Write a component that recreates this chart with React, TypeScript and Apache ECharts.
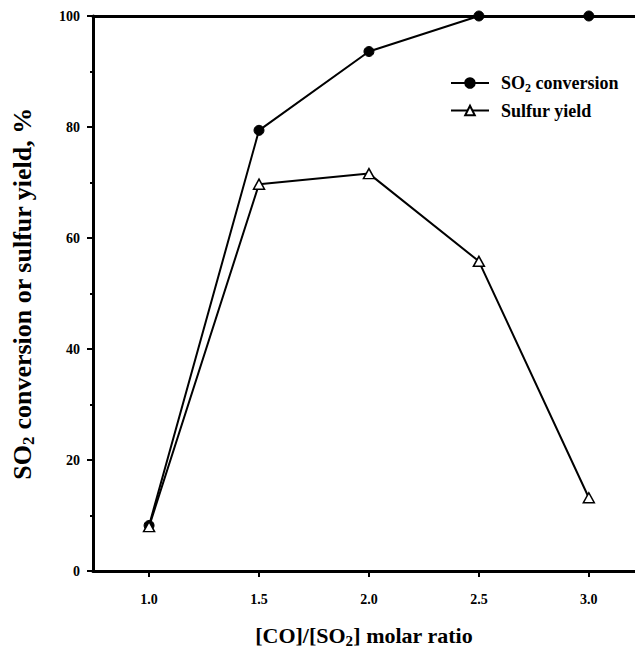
import React, { useEffect, useRef } from "react";
import * as echarts from "echarts";

const ratios = [1.0, 1.5, 2.0, 2.5, 3.0];
const so2Conversion = [8.2, 79.4, 93.6, 100, 100];
const sulfurYield = [8.0, 69.7, 71.6, 55.8, 13.2];
const xTicks = [1.0, 1.5, 2.0, 2.5, 3.0];
const yTicks = [0, 20, 40, 60, 80, 100];

const FONT = "'Liberation Serif', 'Times New Roman', serif";

export default function App() {
  const ref = useRef<HTMLDivElement>(null);
  useEffect(() => {
    if (!ref.current) return;
    document.body.style.margin = "0";
    const chart = echarts.init(ref.current, null, { renderer: "svg" });
    const xMin = 0.745;
    const xMax = 3.21;
    chart.setOption({
      animation: false,
      backgroundColor: "#ffffff",
      textStyle: { fontFamily: FONT },
      grid: { left: 93, right: 0, top: 16, bottom: 76, containLabel: false },
      legend: {
        orient: "vertical",
        left: 450,
        top: 74,
        padding: 0,
        itemWidth: 38,
        itemHeight: 12,
        itemGap: 8,
        data: ["SO2 conversion", "Sulfur yield"],
        formatter: (name: string) =>
          name === "SO2 conversion"
            ? "{a|SO}{sub|2}{a| conversion}"
            : "{a|Sulfur yield}",
        textStyle: {
          fontFamily: FONT,
          fontWeight: "bold",
          fontSize: 18,
          color: "#000",
          padding: [0, 0, 0, 7],
          rich: {
            a: { fontFamily: FONT, fontWeight: "bold", fontSize: 18, color: "#000" },
            sub: {
              fontFamily: FONT,
              fontWeight: "bold",
              fontSize: 12,
              color: "#000",
              padding: [9, 0, 0, 0],
            },
          },
        },
      },
      xAxis: [
        {
          type: "value",
          min: xMin,
          max: xMax,
          position: "bottom",
          name: "{a|[CO]/[SO}{sub|2}{a|] molar ratio}",
          nameLocation: "middle",
          nameGap: 52,
          nameTextStyle: {
            rich: {
              a: { fontFamily: FONT, fontWeight: "bold", fontSize: 22, color: "#000" },
              sub: {
                fontFamily: FONT,
                fontWeight: "bold",
                fontSize: 15,
                color: "#000",
                padding: [10, 0, 0, 0],
              },
            },
          },
          axisLine: { show: true, lineStyle: { color: "#000", width: 3 } },
          axisTick: {
            show: true,
            inside: false,
            length: 6,
            customValues: xTicks,
            lineStyle: { color: "#000", width: 2 },
          },
          axisLabel: {
            show: true,
            customValues: xTicks,
            margin: 21,
            fontFamily: FONT,
            fontWeight: "bold",
            fontSize: 14,
            color: "#000",
            formatter: (v: number) => v.toFixed(1),
          },
          splitLine: { show: false },
        },
        {
          type: "value",
          min: xMin,
          max: xMax,
          position: "top",
          axisLine: { show: true, onZero: false, lineStyle: { color: "#000", width: 3 } },
          axisTick: { show: false },
          axisLabel: { show: false },
          splitLine: { show: false },
        },
      ],
      yAxis: {
        type: "value",
        min: 0,
        max: 100,
        interval: 20,
        name: "{a|SO}{sub|2}{a| conversion or sulfur yield, %}",
        nameLocation: "middle",
        nameRotate: 90,
        nameGap: 56,
        nameTextStyle: {
          rich: {
            a: { fontFamily: FONT, fontWeight: "bold", fontSize: 26, color: "#000" },
            sub: {
              fontFamily: FONT,
              fontWeight: "bold",
              fontSize: 17,
              color: "#000",
              padding: [12, 0, 0, 0],
            },
          },
        },
        axisLine: { show: true, lineStyle: { color: "#000", width: 3 } },
        axisTick: { show: true, inside: false, length: 6, lineStyle: { color: "#000", width: 2 } },
        minorTick: { show: true, splitNumber: 2, length: 3, lineStyle: { color: "#000", width: 2 } },
        axisLabel: {
          margin: 13,
          fontFamily: FONT,
          fontWeight: "bold",
          fontSize: 14,
          color: "#000",
          customValues: yTicks,
        },
        splitLine: { show: false },
      },
      series: [
        {
          name: "SO2 conversion",
          type: "line",
          xAxisIndex: 0,
          data: ratios.map((r, i) => [r, so2Conversion[i]]),
          symbol: "circle",
          symbolSize: 10,
          lineStyle: { color: "#000", width: 2 },
          itemStyle: { color: "#000", borderColor: "#000", borderWidth: 1 },
          z: 2,
        },
        {
          name: "Sulfur yield",
          type: "line",
          xAxisIndex: 0,
          data: ratios.map((r, i) => [r, sulfurYield[i]]),
          symbol: "triangle",
          symbolSize: [11, 10],
          lineStyle: { color: "#000", width: 2 },
          itemStyle: { color: "#fff", borderColor: "#000", borderWidth: 1.5 },
          z: 3,
        },
      ],
    });
    return () => chart.dispose();
  }, []);
  return (
    <div
      ref={ref}
      style={{ width: 635, height: 653, position: "absolute", left: 0, top: 0 }}
    />
  );
}
